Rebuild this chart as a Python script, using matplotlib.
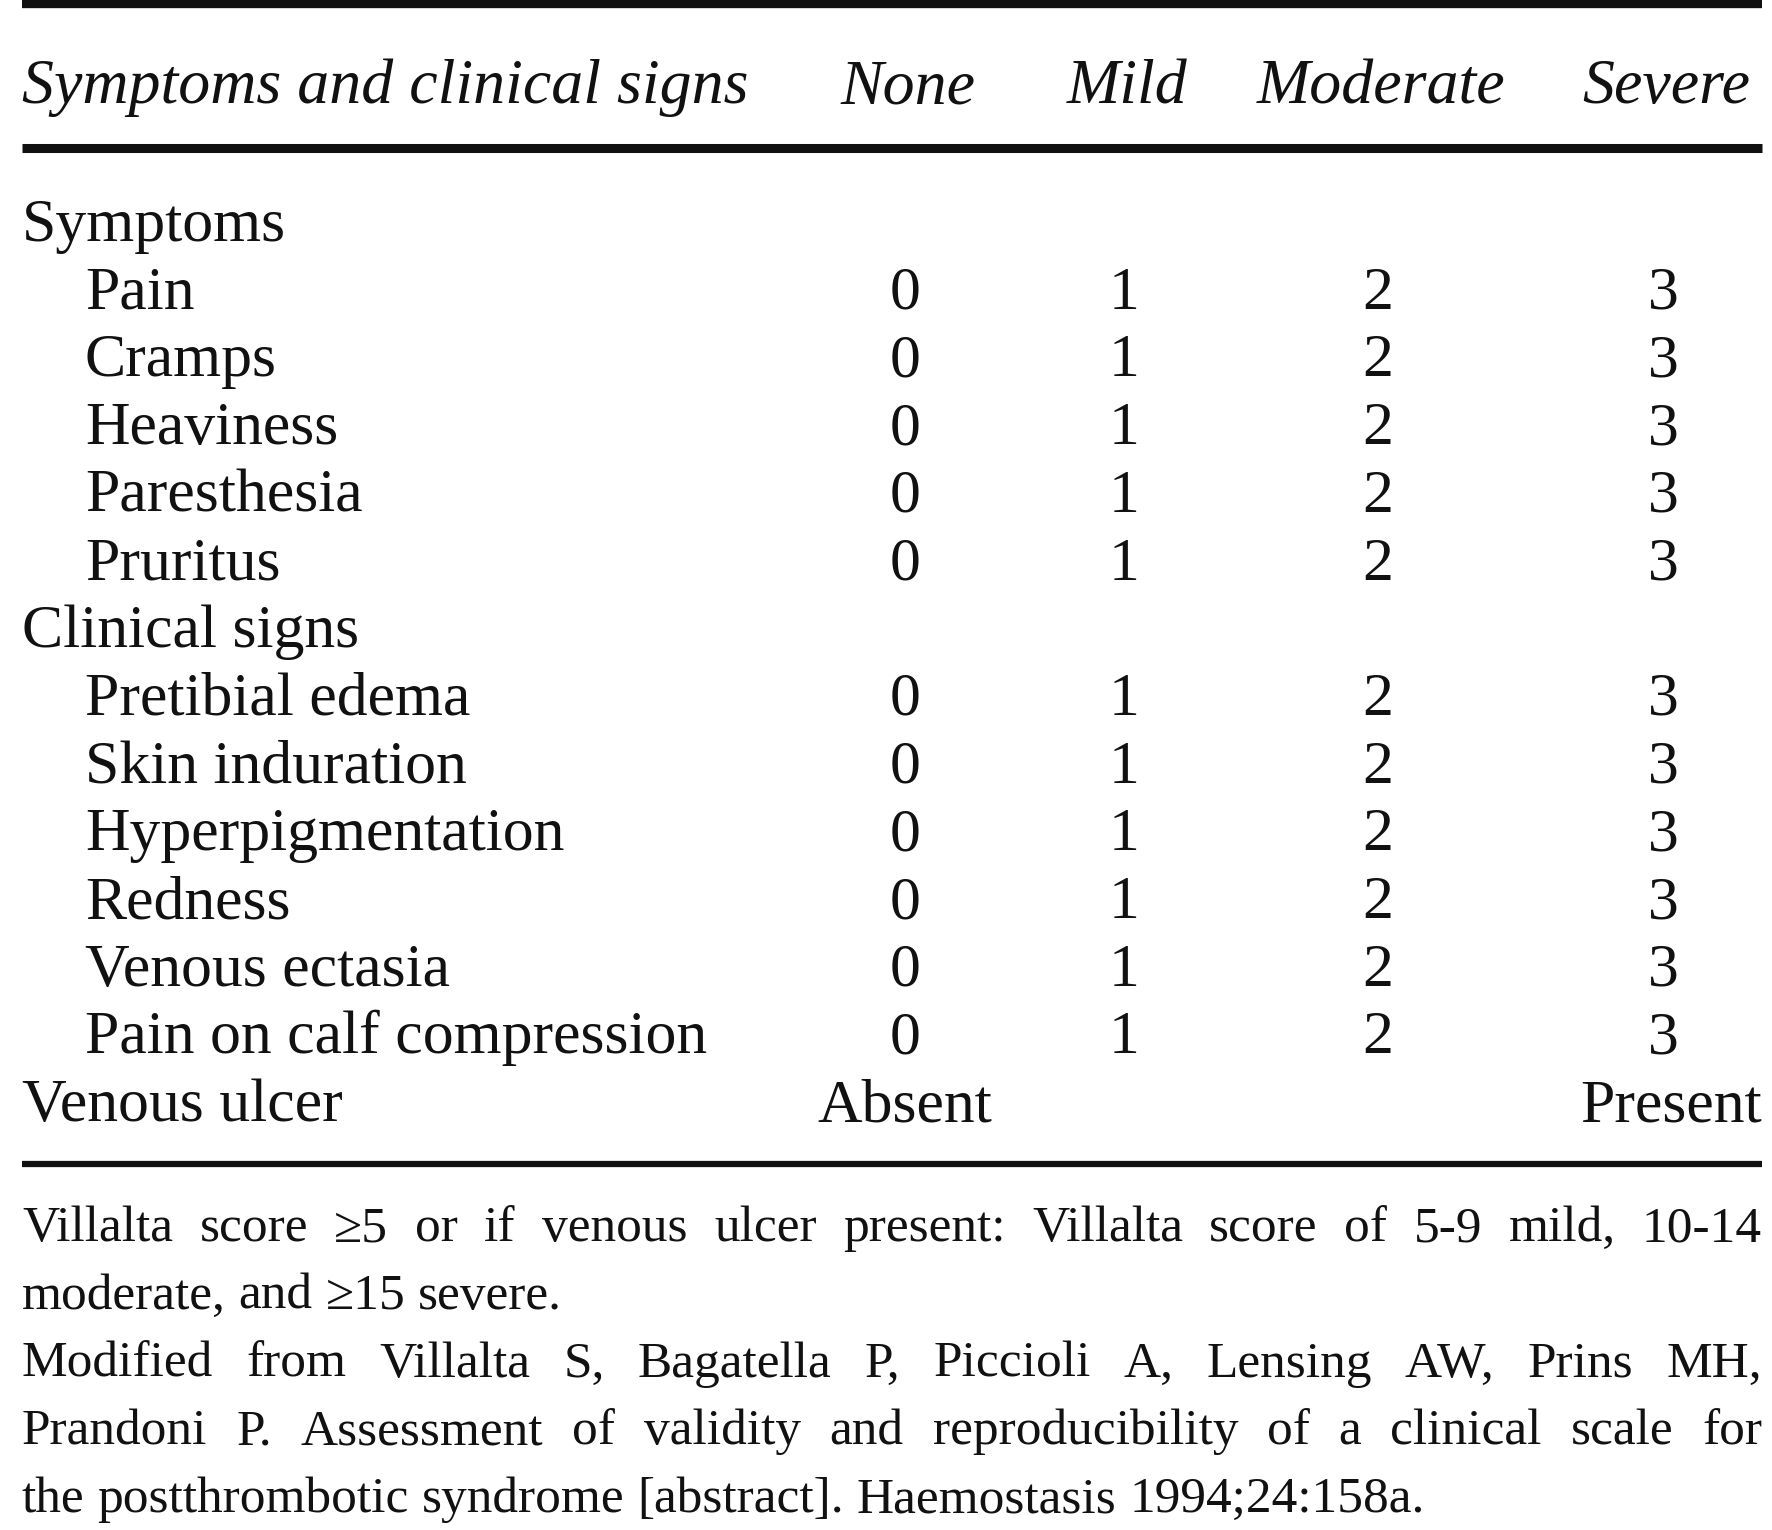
import matplotlib
matplotlib.use("Agg")
import matplotlib.pyplot as plt

# table content
levels = ["None", "Mild", "Moderate", "Severe"]
scores = ["0", "1", "2", "3"]
symptoms = ["Pain", "Cramps", "Heaviness", "Paresthesia", "Pruritus"]
clinical_signs = ["Pretibial edema", "Skin induration", "Hyperpigmentation",
                  "Redness", "Venous ectasia", "Pain on calf compression"]
sections = ["Symptoms", "Clinical signs"]
ulcer_label = "Venous ulcer"
ulcer_values = ["Absent", "Present"]
header_label = "Symptoms and clinical signs"

# footnote lines as broken in the original; True = justified
footnote_lines = [
    ("Villalta score \u22655 or if venous ulcer present: Villalta score of 5-9 mild, 10-14", True),
    ("moderate, and \u226515 severe.", False),
    ("Modified from Villalta S, Bagatella P, Piccioli A, Lensing AW, Prins MH,", True),
    ("Prandoni P. Assessment of validity and reproducibility of a clinical scale for", True),
    ("the postthrombotic syndrome [abstract]. Haemostasis 1994;24:158a.", False),
]

W, H = 1772, 1530
FONT = "Liberation Serif"
BODY = 44.5
NOTE = 37
INK = "#111111"

fig = plt.figure(figsize=(W / 100, H / 100), dpi=100)
ax = fig.add_axes([0, 0, 1, 1])
ax.set_xlim(0, W)
ax.set_ylim(H, 0)
ax.axis("off")

left, right = 22, 1762
indent = 85
col_x = [905, 1124, 1378, 1663]

# rules
ax.plot([left, right], [4, 4], color=INK, lw=6, solid_capstyle="butt")
ax.plot([left, right], [148, 148], color=INK, lw=6.5, solid_capstyle="butt")
ax.plot([left, right], [1164, 1164], color=INK, lw=4.5, solid_capstyle="butt")

# header
hdr_y = 103
ax.text(left, hdr_y, header_label, fontsize=BODY + 1.5, family=FONT, style="italic",
        va="baseline", ha="left", color=INK)
for x, lv in zip(col_x, levels):
    ax.text(x + 3, hdr_y, lv, fontsize=BODY + 1.5, family=FONT, style="italic",
            va="baseline", ha="center", color=INK)

# body rows
y0, pitch = 241, 67.7
row = 0
for sec, items in zip(sections, [symptoms, clinical_signs]):
    ax.text(left, y0 + row * pitch, sec, fontsize=BODY, family=FONT,
            va="baseline", ha="left", color=INK)
    row += 1
    for item in items:
        y = y0 + row * pitch
        ax.text(indent, y, item, fontsize=BODY, family=FONT,
                va="baseline", ha="left", color=INK)
        for x, s in zip(col_x, scores):
            ax.text(x, y, s, fontsize=BODY, family=FONT,
                    va="baseline", ha="center", color=INK)
        row += 1

y = y0 + row * pitch
ax.text(left, y, ulcer_label, fontsize=BODY, family=FONT,
        va="baseline", ha="left", color=INK)
ax.text(col_x[0], y, ulcer_values[0], fontsize=BODY, family=FONT,
        va="baseline", ha="center", color=INK)
ax.text(right, y, ulcer_values[1], fontsize=BODY, family=FONT,
        va="baseline", ha="right", color=INK)

# footnotes, justified to the table width
renderer = fig.canvas.get_renderer()


def word_width(word):
    t = ax.text(0, 0, word, fontsize=NOTE, family=FONT)
    w = t.get_window_extent(renderer).width
    t.remove()
    return w


space_w = word_width("a b") - word_width("ab")
width = right - left
ny, npitch = 1241, 67.8
for i, (line, justify) in enumerate(footnote_lines):
    y = ny + i * npitch
    words = line.split()
    widths = [word_width(w) for w in words]
    if justify and len(words) > 1:
        gap = (width - sum(widths)) / (len(words) - 1)
    else:
        gap = space_w
    x = left
    for w, ww in zip(words, widths):
        ax.text(x, y, w, fontsize=NOTE, family=FONT,
                va="baseline", ha="left", color=INK)
        x += ww + gap

fig.savefig("out.png", dpi=100, facecolor="white")
